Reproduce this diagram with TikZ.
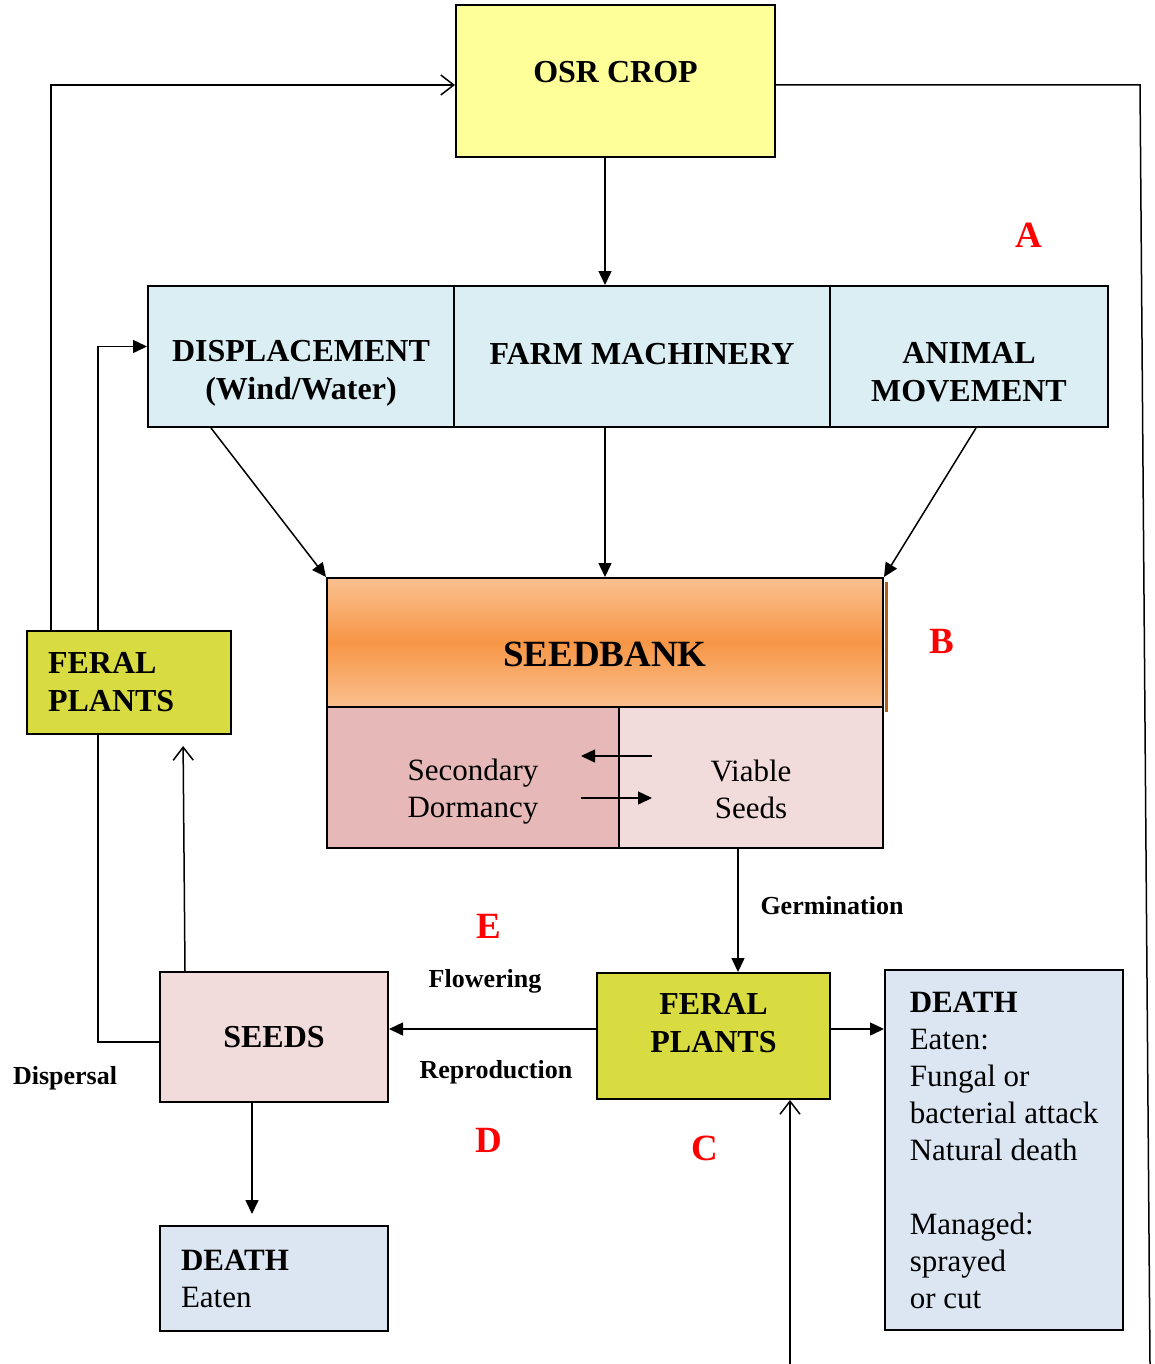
\documentclass[tikz,border=0pt]{standalone}
\usepackage{fontspec}
\setmainfont{Liberation Serif}
\usetikzlibrary{arrows.meta,positioning,calc}

\definecolor{osryellow}{HTML}{FFFF99}
\definecolor{routeblue}{HTML}{DBEEF4}
\definecolor{feralgreen}{HTML}{D8DC40}
\definecolor{dormpink}{HTML}{E6B9B8}
\definecolor{seedpink}{HTML}{F2DCDB}
\definecolor{deathblue}{HTML}{DCE6F2}
\definecolor{bankpale}{HTML}{FAC08F}
\definecolor{bankorange}{HTML}{F79646}
\definecolor{bankedge}{HTML}{B0601C}

\tikzset{
  box/.style={draw, line width=2pt, rectangle, inner sep=0pt},
  boxfont/.style={font=\fontsize{32}{38}\selectfont\bfseries},
  plainfont/.style={font=\fontsize{31}{37}\selectfont},
  tagfont/.style={font=\fontsize{26}{30}\selectfont\bfseries},
  letter/.style={font=\fontsize{37}{40}\selectfont\bfseries, text=red},
  link/.style={line width=1.5pt},
  fillarrow/.style={line width=1.5pt, -{Triangle[length=14pt,width=13pt]}},
  openarrow/.style={line width=1.5pt, -{Straight Barb[length=13pt,width=20pt,line width=1.5pt]}}
}

\begin{document}
\begin{tikzpicture}[x=1pt, y=-1pt]
\useasboundingbox (0,0) rectangle (1154,1364);

% Crop and dispersal routes
\node[box, fill=osryellow, minimum width=319pt, minimum height=152pt, boxfont, text depth=18pt] (osr) at (615.5,81) {OSR CROP};
\node[box, fill=routeblue, minimum width=306pt, minimum height=141pt,
  label={[boxfont, align=center, yshift=-17pt]center:DISPLACEMENT\\(Wind/Water)}] (disp) at (301,356.5) {};
\node[box, fill=routeblue, minimum width=376pt, minimum height=141pt, boxfont, text depth=6pt] (farm) at (642,356.5) {FARM MACHINERY};
\node[box, fill=routeblue, minimum width=278pt, minimum height=141pt,
  label={[boxfont, align=center, yshift=-16pt]center:ANIMAL\\MOVEMENT}] (animal) at (969,356.5) {};

% Seedbank
\node[box, top color=bankpale, bottom color=bankpale, middle color=bankorange, minimum width=556pt, minimum height=129pt,
  label={[font=\fontsize{37}{44}\selectfont\bfseries, yshift=-12pt]center:SEEDBANK}] (seedbank) at (605,642.5) {};
\draw[line width=3pt, bankedge] ([shift={(2.5,5)}]seedbank.north east) -- ([shift={(2.5,4)}]seedbank.south east);
\node[box, fill=dormpink, minimum width=292pt, minimum height=141pt,
  label={[plainfont, align=center, yshift=-14pt]center:Secondary\\Dormancy}] (sec) at (473,777.5) {};
\node[box, fill=seedpink, minimum width=264pt, minimum height=141pt,
  label={[plainfont, align=center, yshift=-12pt]center:Viable\\Seeds}] (viable) at (751,777.5) {};

% Plants, seeds and death
\node[box, fill=feralgreen, minimum width=204pt, minimum height=103pt, boxfont, align=left, text width=162pt] (feralL) at (129,682.5) {FERAL\\PLANTS};
\node[box, fill=seedpink, minimum width=228pt, minimum height=130pt, boxfont] (seeds) at (274,1037) {SEEDS};
\node[box, fill=deathblue, minimum width=228pt, minimum height=105pt, plainfont, align=left, text width=186pt] (deathL) at (274,1278.5) {\textbf{DEATH}\\Eaten};
\node[box, fill=feralgreen, minimum width=233pt, minimum height=126pt,
  label={[boxfont, align=center, yshift=13pt]center:FERAL\\PLANTS}] (feralC) at (713.5,1036) {};
\node[box, fill=deathblue, minimum width=238pt, minimum height=360pt, plainfont, align=left] (deathR) at (1004,1150) {\textbf{DEATH}\\Eaten:\\Fungal or\\bacterial attack\\Natural death\\[37pt]Managed:\\sprayed\\or cut};

% Labels
\node[tagfont] (germ) at (832,906) {Germination};
\node[tagfont] (flow) at (485,981) {Flowering};
\node[tagfont] (repro) at (496,1072) {Reproduction};
\node[tagfont] (disper) at (65,1078) {Dispersal};
\node[letter] (tagA) at (1029,235) {A};
\node[letter] (tagB) at (942,641) {B};
\node[letter] (tagC) at (705,1148) {C};
\node[letter] (tagD) at (489,1140) {D};
\node[letter] (tagE) at (489,926) {E};

% Arrows into the seedbank
\draw[fillarrow] (osr.south -| seedbank.north) -- (farm.north -| seedbank.north);
\draw[fillarrow] ([xshift=-90pt]disp.south) -- (seedbank.north west);
\draw[fillarrow] (farm.south -| seedbank.north) -- (seedbank.north);
\draw[fillarrow] ([xshift=7pt]animal.south) -- (seedbank.north east);
\draw[fillarrow] ([shift={(34,-21.5)}]viable.west) -- ([shift={(-39,-21.5)}]sec.east);
\draw[fillarrow] ([shift={(-39,20.5)}]sec.east) -- ([shift={(34,20.5)}]viable.west);

% Life cycle
\draw[fillarrow] ([xshift=-13pt]viable.south) -- ([xshift=24.5pt]feralC.north);
\draw[fillarrow] ([yshift=7pt]feralC.west) -- ([yshift=7pt]feralC.west -| seeds.east);
\draw[fillarrow] ([yshift=7pt]feralC.east) -- ([yshift=7pt]feralC.east -| deathR.west);
\draw[fillarrow, shorten >=11pt] ([xshift=-22pt]seeds.south) -- ([xshift=-22pt]deathL.north);
\draw[openarrow, shorten >=11pt] ([xshift=-89pt]seeds.north) -- ([xshift=54pt]feralL.south);
\draw[link] ([yshift=-5pt]seeds.west) -| ([xshift=-31pt]feralL.south);
\draw[fillarrow] ([xshift=-31pt]feralL.north) |- ([yshift=10pt]disp.west);
\draw[openarrow] ([xshift=-78pt]feralL.north) |- ([yshift=-4pt]osr.west);

% Return lines at the edges
\coordinate (rimEnd) at (1150,1364);
\coordinate (baseEnd) at (790,1364);
\draw[link] ([yshift=-4pt]osr.east) -- ++(364,0) -- (rimEnd);
\draw[openarrow] (baseEnd) -- (baseEnd |- feralC.south);
\end{tikzpicture}
\end{document}
